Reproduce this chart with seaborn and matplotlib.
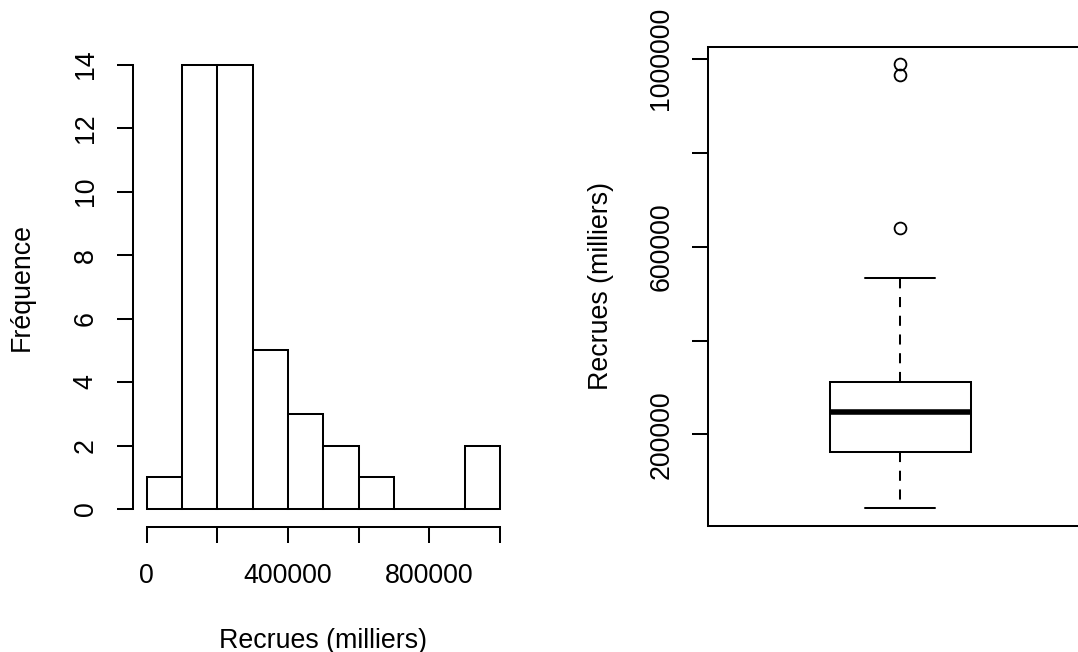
import numpy as np
import pandas as pd
import matplotlib
matplotlib.use('Agg')
import matplotlib.pyplot as plt
import seaborn as sns

recrues = [43000,
           108000, 119000, 127000, 134000, 141000, 147000, 152000,
           156000, 159000, 161000, 165000, 174000, 184000, 195000,
           205000, 213000, 221000, 228000, 236000, 243000, 251600,
           259000, 266000, 273000, 280000, 286000, 292000, 298000,
           303000, 309000, 312200, 344000, 377000,
           418000, 451000, 476000,
           514000, 533000,
           640000,
           965000, 988000]
bin_edges = np.arange(0, 1000001, 100000)

hist_xticks = [0, 200000, 400000, 600000, 800000, 1000000]
hist_xlabels = ['0', '', '400000', '', '800000', '']
hist_yticks = [0, 2, 4, 6, 8, 10, 12, 14]
box_yticks = [200000, 400000, 600000, 800000, 1000000]
box_ylabels = ['200000', '', '600000', '', '1000000']

df = pd.DataFrame({'recrues': recrues})

sns.set_style('ticks')
plt.rcParams['font.family'] = ['Liberation Sans', 'DejaVu Sans']
plt.rcParams['text.color'] = 'black'
plt.rcParams['axes.labelcolor'] = 'black'
plt.rcParams['xtick.color'] = 'black'
plt.rcParams['ytick.color'] = 'black'
plt.rcParams['axes.edgecolor'] = 'black'
fs = 19.3
lw = 1.45

fig = plt.figure(figsize=(10.78, 6.52), dpi=100)
ax1 = fig.add_axes([0.1230, 0.1920, 0.3539, 0.7362])
ax2 = fig.add_axes([0.6571, 0.1933, 0.3557, 0.7351])

# histogram
sns.histplot(data=df, x='recrues', bins=bin_edges, ax=ax1, color='white',
             edgecolor='black', linewidth=lw, alpha=1)
ax1.set_xlim(-40000, 1040000)
ax1.set_ylim(-0.56, 14.56)
ax1.spines['top'].set_visible(False)
ax1.spines['right'].set_visible(False)
ax1.spines['left'].set_bounds(0, 14)
ax1.spines['bottom'].set_bounds(0, 1000000)
for s in ['left', 'bottom']:
    ax1.spines[s].set_linewidth(lw)
ax1.set_xticks(hist_xticks)
ax1.set_xticklabels(hist_xlabels)
ax1.set_yticks(hist_yticks)
ax1.set_yticklabels([str(v) for v in hist_yticks], rotation=90, va='center')
ax1.tick_params(axis='both', length=11.5, width=lw, labelsize=fs, pad=13)
ax1.tick_params(axis='x', pad=14.5)
ax1.set_xlabel('Recrues (milliers)', fontsize=fs, labelpad=28)
ax1.set_ylabel('Fréquence', fontsize=fs, labelpad=27)

# boxplot
sns.boxplot(data=df, y='recrues', ax=ax2, width=0.8, color='white',
            linecolor='black', linewidth=lw,
            whiskerprops={'linestyle': (0, (5, 4.3))},
            medianprops={'linewidth': 4},
            flierprops={'marker': 'o', 'markersize': 8.5,
                        'markerfacecolor': 'none', 'markeredgecolor': 'black',
                        'markeredgewidth': 1.3})
span = max(recrues) - min(recrues)
ax2.set_ylim(min(recrues) - 0.04 * span, max(recrues) + 0.04 * span)
ax2.set_xlim(-1.0876, 1.0876)
ax2.set_xticks([])
for s in ax2.spines.values():
    s.set_linewidth(lw)
    s.set_visible(True)
ax2.set_yticks(box_yticks)
ax2.set_yticklabels(box_ylabels, rotation=90, va='center')
ax2.tick_params(axis='y', length=11.5, width=lw, labelsize=fs, pad=13)
ax2.set_ylabel('Recrues (milliers)', fontsize=fs, labelpad=25)
ax2.set_xlabel('')

plt.savefig('out.png', dpi=100)
